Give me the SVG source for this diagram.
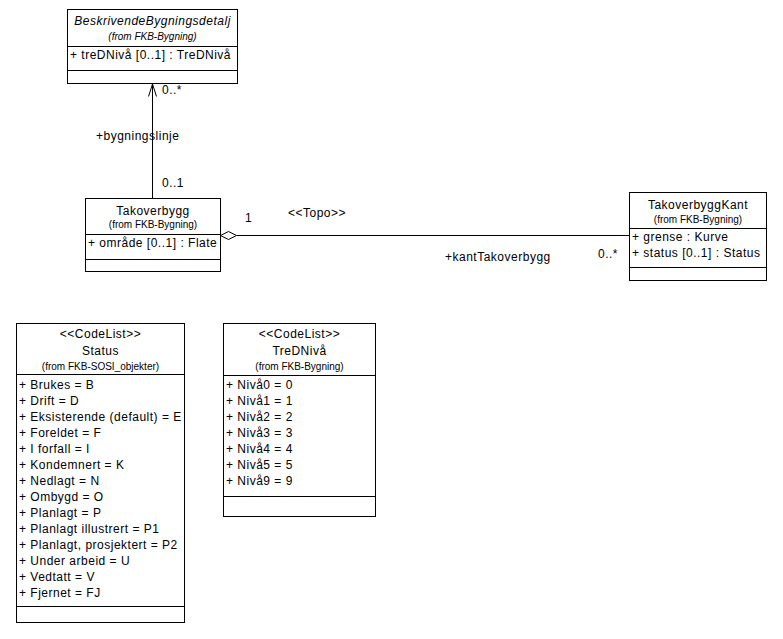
<svg xmlns="http://www.w3.org/2000/svg" width="783" height="639" viewBox="0 0 783 639">
<style>
  text { font-family: "Liberation Sans", Arial, sans-serif; font-size: 12px; letter-spacing: 0.5px; fill: #000; }
  .c { text-anchor: middle; }
  .s { font-size: 10px; letter-spacing: 0px; }
  .i { font-style: italic; }
  .box { fill: #fff; stroke: #000; stroke-width: 1; }
  .ln { stroke: #000; stroke-width: 1; fill: none; }
</style>
<rect width="783" height="639" fill="#fff"/>

<g id="connectors">
  <line class="ln" x1="152.5" y1="83.5" x2="152.5" y2="198"/>
  <polyline class="ln" points="148.5,96.5 152.5,84 156.5,96.5"/>
  <line class="ln" x1="237" y1="235.5" x2="629" y2="235.5"/>
  <polygon class="ln" points="220.5,235.5 228.5,231.5 236.5,235.5 228.5,239.5" style="fill:#fff"/>
  <text x="96" y="140">+bygningslinje</text>
  <text x="162" y="94">0..*</text>
  <text x="162" y="187">0..1</text>
  <text x="245" y="222">1</text>
  <text x="288" y="217">&lt;&lt;Topo&gt;&gt;</text>
  <text x="445" y="261">+kantTakoverbygg</text>
  <text x="598" y="258">0..*</text>
</g>

<g id="BeskrivendeBygningsdetalj">
  <rect class="box" x="67.5" y="9.5" width="170" height="74"/>
  <line class="ln" x1="67.5" y1="46.5" x2="237.5" y2="46.5"/>
  <line class="ln" x1="67.5" y1="70.5" x2="237.5" y2="70.5"/>
  <text class="c i" x="152.5" y="25">BeskrivendeBygningsdetalj</text>
  <text class="c i s" x="152.5" y="40">(from FKB-Bygning)</text>
  <text x="70" y="59">+ treDNivå [0..1] : TreDNivå</text>
</g>

<g id="Takoverbygg">
  <rect class="box" x="85.5" y="198.5" width="135" height="73"/>
  <line class="ln" x1="85.5" y1="234.5" x2="220.5" y2="234.5"/>
  <line class="ln" x1="85.5" y1="259.5" x2="220.5" y2="259.5"/>
  <text class="c" x="153" y="215">Takoverbygg</text>
  <text class="c s" x="153" y="228">(from FKB-Bygning)</text>
  <text x="88" y="247">+ område [0..1] : Flate</text>
</g>

<g id="TakoverbyggKant">
  <rect class="box" x="629.5" y="192.5" width="137" height="88"/>
  <line class="ln" x1="629.5" y1="228.5" x2="766.5" y2="228.5"/>
  <line class="ln" x1="629.5" y1="267.5" x2="766.5" y2="267.5"/>
  <text class="c" x="698" y="209">TakoverbyggKant</text>
  <text class="c s" x="698" y="223">(from FKB-Bygning)</text>
  <text x="632" y="241">+ grense : Kurve</text>
  <text x="632" y="257">+ status [0..1] : Status</text>
</g>

<g id="Status">
  <rect class="box" x="16.5" y="323.5" width="168" height="299"/>
  <line class="ln" x1="16.5" y1="374.5" x2="184.5" y2="374.5"/>
  <line class="ln" x1="16.5" y1="606.5" x2="184.5" y2="606.5"/>
  <text class="c" x="100.5" y="338">&lt;&lt;CodeList&gt;&gt;</text>
  <text class="c" x="100.5" y="355">Status</text>
  <text class="c s" x="100.5" y="370">(from FKB-SOSI_objekter)</text>
  <text x="19" y="389">+ Brukes = B</text>
  <text x="19" y="405">+ Drift = D</text>
  <text x="19" y="421">+ Eksisterende (default) = E</text>
  <text x="19" y="437">+ Foreldet = F</text>
  <text x="19" y="453">+ I forfall = I</text>
  <text x="19" y="469">+ Kondemnert = K</text>
  <text x="19" y="485">+ Nedlagt = N</text>
  <text x="19" y="501">+ Ombygd = O</text>
  <text x="19" y="517">+ Planlagt = P</text>
  <text x="19" y="533">+ Planlagt illustrert = P1</text>
  <text x="19" y="549">+ Planlagt, prosjektert = P2</text>
  <text x="19" y="565">+ Under arbeid = U</text>
  <text x="19" y="581">+ Vedtatt = V</text>
  <text x="19" y="597">+ Fjernet = FJ</text>
</g>

<g id="TreDNivaa">
  <rect class="box" x="223.5" y="323.5" width="152" height="193"/>
  <line class="ln" x1="223.5" y1="375.5" x2="375.5" y2="375.5"/>
  <line class="ln" x1="223.5" y1="496.5" x2="375.5" y2="496.5"/>
  <text class="c" x="299.5" y="338">&lt;&lt;CodeList&gt;&gt;</text>
  <text class="c" x="299.5" y="355">TreDNivå</text>
  <text class="c s" x="299.5" y="370">(from FKB-Bygning)</text>
  <text x="226" y="389">+ Nivå0 = 0</text>
  <text x="226" y="405">+ Nivå1 = 1</text>
  <text x="226" y="421">+ Nivå2 = 2</text>
  <text x="226" y="437">+ Nivå3 = 3</text>
  <text x="226" y="453">+ Nivå4 = 4</text>
  <text x="226" y="469">+ Nivå5 = 5</text>
  <text x="226" y="485">+ Nivå9 = 9</text>
</g>
</svg>
